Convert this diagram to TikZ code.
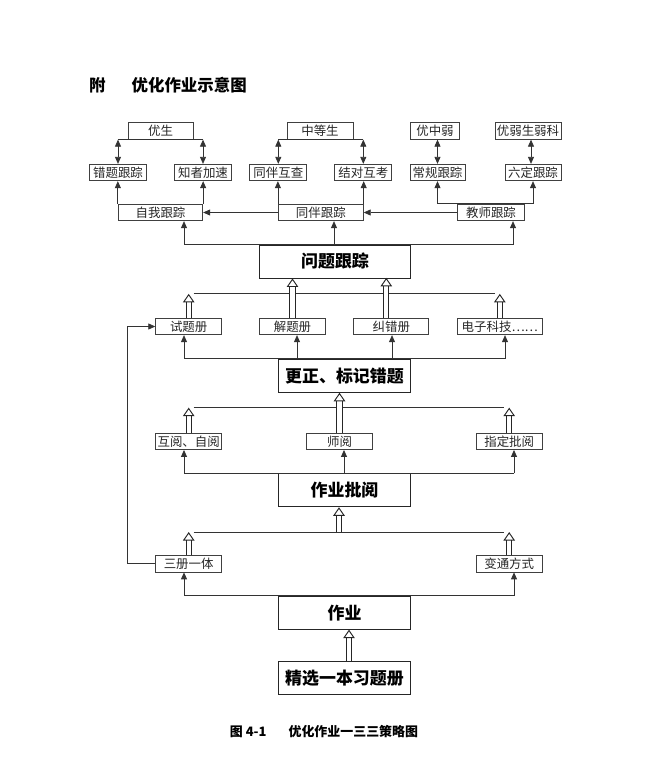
\documentclass[tikz,border=0pt]{standalone}
\usepackage{fontspec}
\newfontfamily\cjk{Noto Sans CJK SC}
\usetikzlibrary{arrows.meta}

\begin{document}
\begin{tikzpicture}[
    x=1bp, y=-1bp,
    cell/.style={rectangle, draw=black!75, line width=0.8bp, inner sep=0pt, minimum height=16.5bp, text=black!85, font=\cjk\fontsize{12.5}{12.5}\selectfont},
    block/.style={rectangle, draw=black!85, line width=0.9bp, inner sep=0pt, minimum width=132.5bp, minimum height=33bp, font=\cjk\bfseries\fontsize{17}{17}\selectfont},
    arrow/.style={-{Triangle[length=7bp, width=6bp]}, line width=0.8bp, draw=black!80},
    twoway/.style={{Triangle[length=7bp, width=6bp]}-{Triangle[length=7bp, width=6bp]}, line width=0.8bp, draw=black!80},
    bus/.style={line width=0.8bp, draw=black!80},
    hollow/.style={double=white, double distance=4.2bp, line width=0.95bp, draw=black!85, -{Triangle[open, length=8.5bp, width=11.5bp, line width=0.95bp]}}
]
\useasboundingbox (0,0) rectangle (646,762);

% Title and caption
\node[anchor=west, inner sep=0pt, font=\cjk\bfseries\fontsize{16.5}{16.5}\selectfont] (title) at (89,85) {附\hspace{26bp}优化作业示意图};
\node[inner sep=0pt, font=\cjk\bfseries\fontsize{13}{13}\selectfont] (caption) at (324,732) {图 4-1\hspace{22bp}优化作业一三三策略图};

% Student groups
\node[cell, minimum width=65bp] (yousheng) at (160.5,131) {优生};
\node[cell, minimum width=66bp] (zhongdeng) at (320,131) {中等生};
\node[cell, minimum width=49bp] (zhongruo) at (435,131) {优中弱};
\node[cell, minimum width=66bp] (ruoke) at (528,131) {优弱生弱科};

% Tracking methods
\node[cell, minimum width=57bp] (cuoti) at (118,172.5) {错题跟踪};
\node[cell, minimum width=57bp] (zhizhe) at (203,172.5) {知者加速};
\node[cell, minimum width=57bp] (hucha) at (278.3,172.5) {同伴互查};
\node[cell, minimum width=57bp] (hukao) at (363.3,172.5) {结对互考};
\node[cell, minimum width=55bp] (changgui) at (437.5,172.5) {常规跟踪};
\node[cell, minimum width=56bp] (liuding) at (533,172.5) {六定跟踪};

% Tracking kinds
\node[cell, minimum width=84.5bp] (ziwo) at (160.5,212.5) {自我跟踪};
\node[cell, minimum width=85bp] (tongban) at (320.8,212.5) {同伴跟踪};
\node[cell, minimum width=67bp] (jiaoshi) at (491,212.5) {教师跟踪};

\node[block, minimum width=151.5bp] (wenti) at (335,261.5) {问题跟踪};

% Books
\node[cell, minimum width=66bp] (shiti) at (188.7,326.5) {试题册};
\node[cell, minimum width=66bp] (jieti) at (292.5,326.5) {解题册};
\node[cell, minimum width=75bp] (jiucuo) at (391.3,326.5) {纠错册};
\node[cell, minimum width=85bp] (dianzi) at (499.8,326.5) {电子科技……};

\node[block] (gengzheng) at (344.5,375.8) {更正、标记错题};

% Marking
\node[cell, minimum width=66bp] (huyue) at (188.7,441.3) {互阅、自阅};
\node[cell, minimum width=65.5bp] (shiyue) at (339.5,441.3) {师阅};
\node[cell, minimum width=66bp] (zhiding) at (509.2,441.3) {指定批阅};

\node[block] (pigai) at (344.5,490.3) {作业批阅};

% Homework forms
\node[cell, minimum width=66bp] (sance) at (188.7,563.7) {三册一体};
\node[cell, minimum width=66bp] (biantong) at (509.2,563.7) {变通方式};

\node[block] (zuoye) at (344.5,612.7) {作业};
\node[block] (jingxuan) at (344.5,678) {精选一本习题册};

% Student groups to tracking methods
\draw[bus] (cuoti.north |- yousheng.south) -- (zhizhe.north |- yousheng.south);
\draw[twoway] (cuoti.north |- yousheng.south) -- (cuoti.north);
\draw[twoway] (zhizhe.north |- yousheng.south) -- (zhizhe.north);
\draw[bus] (hucha.north |- zhongdeng.south) -- (hukao.north |- zhongdeng.south);
\draw[twoway] (hucha.north |- zhongdeng.south) -- (hucha.north);
\draw[twoway] (hukao.north |- zhongdeng.south) -- (hukao.north);
\draw[twoway] (changgui.north |- zhongruo.south) -- (changgui.north);
\draw[twoway] ([xshift=-2bp]liuding.north |- ruoke.south) -- ([xshift=-2bp]liuding.north);

% Tracking kinds to tracking methods
\draw[arrow] (ziwo.north west) -- (ziwo.north west |- cuoti.south);
\draw[arrow] (ziwo.north east) -- (ziwo.north east |- zhizhe.south);
\draw[arrow] (tongban.north west) -- (tongban.north west |- hucha.south);
\draw[arrow] (tongban.north east) -- (tongban.north east |- hukao.south);
\draw[twoway] (changgui.south) |- (jiaoshi.north) -| (liuding.south);
\draw[arrow] (tongban.west) -- (ziwo.east);
\draw[arrow] (jiaoshi.west) -- (tongban.east);

% Problem tracking
\draw[bus] (184,0 |- wenti.north) -- (514,0 |- wenti.north);
\draw[arrow] (184,0 |- wenti.north) -- (184,0 |- ziwo.south);
\draw[arrow] (334,0 |- wenti.north) -- (334,0 |- tongban.south);
\draw[arrow] (513,0 |- wenti.north) -- (513,0 |- jiaoshi.south);

% Books up to problem tracking
\path (shiti.north) ++(0,-24) coordinate (bookl);
\path (dianzi.north) ++(0,-24) coordinate (bookr);
\draw[hollow] (shiti.north) -- (bookl);
\draw[hollow] (dianzi.north) -- (bookr);
\draw[bus] ([xshift=5bp]bookl) -- ([xshift=-5bp]bookr);
\draw[hollow] (jieti.north) -- (jieti.north |- wenti.south);
\draw[hollow] ([xshift=-5bp]jiucuo.north) -- ++(0,-40);

% Correction to books
\draw[bus] (184,0 |- gengzheng.north) -- (505,0 |- gengzheng.north);
\draw[arrow] (184,0 |- gengzheng.north) -- (184,0 |- shiti.south);
\draw[arrow] (297,0 |- gengzheng.north) -- (297,0 |- jieti.south);
\draw[arrow] (392,0 |- gengzheng.north) -- (392,0 |- jiucuo.south);
\draw[arrow] (505,0 |- gengzheng.north) -- (505,0 |- dianzi.south);

% Marking up to correction
\path (huyue.north) ++(0,-25) coordinate (markl);
\path (zhiding.north) ++(0,-25) coordinate (markr);
\draw[hollow] (huyue.north) -- (markl);
\draw[hollow] (zhiding.north) -- (markr);
\draw[bus] ([xshift=5bp]markl) -- ([xshift=-5bp]markr);
\draw[hollow] (shiyue.north) -- (shiyue.north |- gengzheng.south);

% Homework marking to marking
\draw[bus] (184,0 |- pigai.north) -- (514,0 |- pigai.north);
\draw[arrow] (184,0 |- pigai.north) -- (184,0 |- huyue.south);
\draw[arrow] (344,0 |- pigai.north) -- (344,0 |- shiyue.south);
\draw[arrow] (514,0 |- pigai.north) -- (514,0 |- zhiding.south);

% Homework forms up to homework marking
\path (sance.north) ++(0,-23) coordinate (forml);
\path (biantong.north) ++(0,-23) coordinate (formr);
\draw[hollow] (sance.north) -- (forml);
\draw[hollow] (biantong.north) -- (formr);
\draw[bus] ([xshift=5bp]forml) -- ([xshift=-5bp]formr);
\draw[hollow] (339,0 |- forml) -- (339,0 |- pigai.south);

% Homework to forms
\draw[bus] (184,0 |- zuoye.north) -- (514,0 |- zuoye.north);
\draw[arrow] (184,0 |- zuoye.north) -- (184,0 |- sance.south);
\draw[arrow] (514,0 |- zuoye.north) -- (514,0 |- biantong.south);
\draw[hollow] (349,0 |- jingxuan.north) -- (349,0 |- zuoye.south);

% Feedback to the test book
\draw[arrow] (sance.west) -- ++(-28,0) |- (shiti.west);

\end{tikzpicture}
\end{document}
